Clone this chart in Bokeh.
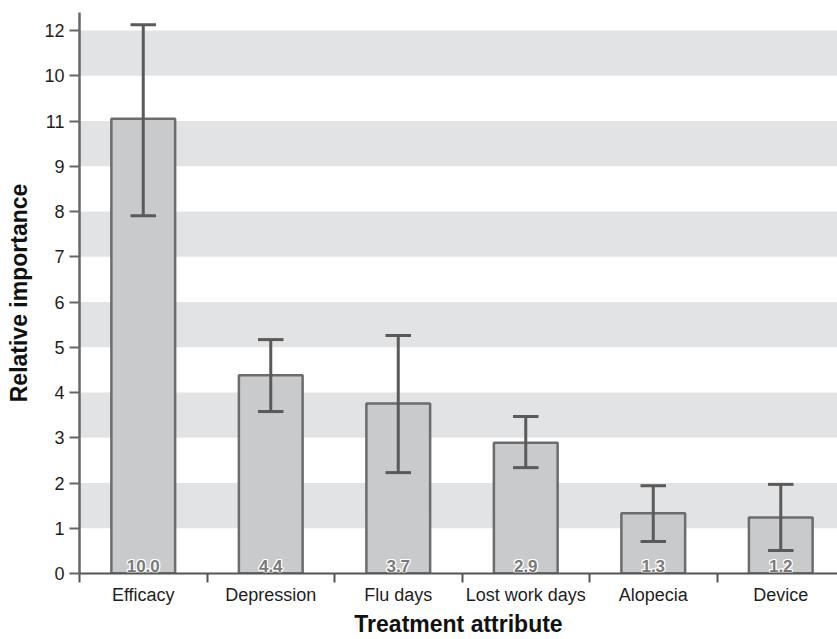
from bokeh.plotting import figure
from bokeh.models import ColumnDataSource, Range1d, FixedTicker
from bokeh.core.properties import value
from bokeh.embed import file_html
from bokeh.resources import INLINE

# ---- data ----
categories = ["Efficacy", "Depression", "Flu days", "Lost work days", "Alopecia", "Device"]
importance = [10.05, 4.38, 3.76, 2.89, 1.33, 1.24]
err_low = [7.91, 3.58, 2.23, 2.34, 0.71, 0.51]
err_high = [12.13, 5.17, 5.26, 3.47, 1.94, 1.97]
value_labels = ["10.0", "4.4", "3.7", "2.9", "1.3", "1.2"]
y_ticks = [0, 1, 2, 3, 4, 5, 6, 7, 8, 9, 10, 11, 12]
y_tick_labels = ["0", "1", "2", "3", "4", "5", "6", "7", "8", "9", "11", "10", "12"]

FONT = "Liberation Sans"

xc = [i + 0.5 for i in range(len(categories))]
cap = 0.1
src = ColumnDataSource(dict(
    x=xc, top=importance, lo=err_low, hi=err_high, lab=value_labels,
    cl=[x - cap for x in xc], cr=[x + cap for x in xc],
))

p = figure(width=837, height=639, output_backend="svg", toolbar_location=None,
           x_range=Range1d(0, 5.945), y_range=Range1d(0, 12.4),
           min_border_left=79, min_border_top=12, min_border_right=0, min_border_bottom=66)
p.outline_line_color = None
p.background_fill_color = "white"

# alternating bands via grid
p.xgrid.visible = False
p.ygrid.grid_line_color = None
p.ygrid.band_fill_color = "#e2e3e5"
p.ygrid.band_fill_alpha = 1.0

# bars
p.vbar(x="x", top="top", width=0.5, bottom=0, source=src,
       fill_color="#c9cacc", line_color="#6c6c6c", line_width=2.5)

# error bars
ec = "#5a5a5a"
p.segment(x0="x", x1="x", y0="lo", y1="hi", source=src, line_color=ec, line_width=3)
p.segment(x0="cl", x1="cr", y0="hi", y1="hi", source=src, line_color=ec, line_width=3)
p.segment(x0="cl", x1="cr", y0="lo", y1="lo", source=src, line_color=ec, line_width=3)

# value labels with white halo
for dx, dy in [(-1, 0), (1, 0), (0, -1), (0, 1), (-1, -1), (1, 1), (-1, 1), (1, -1)]:
    p.text(x="x", y=0, text="lab", source=src, text_font=value(FONT), text_font_style="bold",
           text_font_size="17px", text_color="white", text_align="center",
           text_baseline="bottom", x_offset=dx, y_offset=-2 + dy)
p.text(x="x", y=0, text="lab", source=src, text_font=value(FONT), text_font_style="bold",
       text_font_size="17px", text_color="#7a7a7a", text_align="center",
       text_baseline="bottom", y_offset=-2)

# y axis
ya = p.yaxis[0]
ya.ticker = FixedTicker(ticks=y_ticks)
ya.major_label_overrides = {t: l for t, l in zip(y_ticks, y_tick_labels)}
ya.axis_label = "Relative importance"
ya.axis_label_text_font = FONT
ya.axis_label_text_font_style = "bold"
ya.axis_label_text_font_size = "23px"
ya.axis_label_text_color = "#111111"
ya.axis_label_standoff = 9
ya.major_label_text_font = FONT
ya.major_label_text_font_size = "18px"
ya.major_label_text_color = "#1e1e1e"
ya.major_label_standoff = 5
ya.major_tick_in = 0
ya.major_tick_out = 10
ya.minor_tick_out = 0
ya.minor_tick_in = 0
ya.axis_line_color = "#666666"
ya.axis_line_width = 2.5
ya.major_tick_line_color = "#666666"
ya.major_tick_line_width = 2

# x axis: labels at bar centres, tick marks at category boundaries
xa = p.xaxis[0]
xa.ticker = FixedTicker(ticks=xc, minor_ticks=list(range(len(categories) + 1)))
xa.major_label_overrides = {x: c for x, c in zip(xc, categories)}
xa.major_tick_in = 0
xa.major_tick_out = 0
xa.minor_tick_in = 0
xa.minor_tick_out = 9
xa.minor_tick_line_color = "#555555"
xa.minor_tick_line_width = 2
xa.axis_line_color = "#555555"
xa.axis_line_width = 2
xa.major_label_standoff = 2
xa.major_label_text_font = FONT
xa.major_label_text_font_size = "18px"
xa.major_label_text_color = "#1e1e1e"
xa.axis_label = "Treatment attribute"
xa.axis_label_text_font = FONT
xa.axis_label_text_font_style = "bold"
xa.axis_label_text_font_size = "23px"
xa.axis_label_text_color = "#111111"
xa.axis_label_standoff = 3

open("out.html", "w").write(file_html(p, INLINE))
